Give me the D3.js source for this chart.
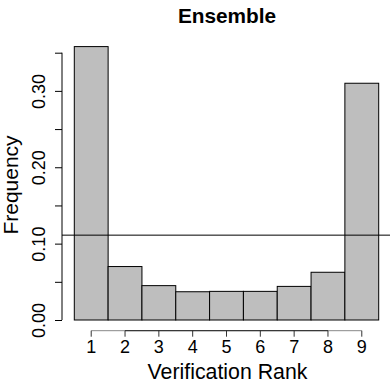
<!DOCTYPE html>
<html>
<head>
<meta charset="utf-8">
<script src="https://cdn.jsdelivr.net/npm/d3@7"></script>
<style>
  html, body { margin: 0; padding: 0; background: #fff; }
  svg { display: block; }
  text { font-family: "Liberation Sans", Arial, Helvetica, sans-serif; fill: #000; }
</style>
</head>
<body>
<svg id="chart" width="390" height="383"></svg>
<script>
const ranks = [1, 2, 3, 4, 5, 6, 7, 8, 9];
const frequency = [0.358, 0.070, 0.045, 0.037, 0.0375, 0.0375, 0.044, 0.0625, 0.310];
const yTicks = [0, 0.05, 0.10, 0.15, 0.20, 0.25, 0.30, 0.35];
const yTickLabels = ["0.00", "", "0.10", "", "0.20", "", "0.30", ""];
const uniformLine = [1 / 9];
const title = "Ensemble";
const xTitle = "Verification Rank";
const yTitle = "Frequency";

const svg = d3.select("#chart");
const W = 390, H = 383;

const x = d3.scaleBand().domain(ranks).range([74.3, 378.7]).padding(0);
const y = d3.scaleLinear().domain([0, 0.35]).range([320, 52.7]);

// bars
svg.append("g").selectAll("rect").data(ranks).join("rect")
  .attr("x", d => x(d))
  .attr("y", (d, i) => y(frequency[i]))
  .attr("width", x.bandwidth())
  .attr("height", (d, i) => y(0) - y(frequency[i]))
  .attr("fill", "#bebebe")
  .attr("stroke", "#000")
  .attr("stroke-width", 1);

// y axis
const yAxisX = 62;
const yAxis = d3.axisLeft(y).tickValues(yTicks).tickSize(7).tickFormat((d, i) => yTickLabels[i]);
const gy = svg.append("g").attr("transform", `translate(${yAxisX},0)`).call(yAxis);
gy.select(".domain").attr("d", `M0,${y(0)}V${y(0.35)}`).attr("stroke", "#000");
gy.selectAll(".tick line").attr("stroke", "#000");
gy.selectAll(".tick text")
  .attr("x", 0).attr("y", 0).attr("dy", null)
  .attr("transform", "translate(-17,0) rotate(-90)")
  .attr("text-anchor", "middle")
  .style("font-size", "18px")
  .style("font-family", "'Liberation Sans', Arial, sans-serif");

// x axis
const xAxisY = 330.7;
const xAxis = d3.axisBottom(x).tickSize(6);
const gx = svg.append("g").attr("transform", `translate(0,${xAxisY})`).call(xAxis);
gx.select(".domain").attr("d", `M${x(1) + x.bandwidth() / 2},0H${x(9) + x.bandwidth() / 2}`).attr("stroke", "#888");
gx.append("path")
  .attr("d", `M${x(2) + x.bandwidth() / 2},0H${x(8) + x.bandwidth() / 2}`)
  .attr("stroke", "#222").attr("fill", "none");
gx.selectAll(".tick line").attr("stroke", "#333");
gx.selectAll(".tick text")
  .attr("y", 22).attr("dy", null)
  .style("font-size", "18px")
  .style("font-family", "'Liberation Sans', Arial, sans-serif");

// horizontal reference line
svg.append("g").selectAll("line").data(uniformLine).join("line")
  .attr("x1", yAxisX).attr("x2", W)
  .attr("y1", d => y(d)).attr("y2", d => y(d))
  .attr("stroke", "#000").attr("stroke-width", 1);

// title
svg.append("text")
  .attr("x", 227).attr("y", 23)
  .attr("text-anchor", "middle")
  .style("font-weight", "bold")
  .style("font-size", "20.8px")
  .text(title);

// x title
svg.append("text")
  .attr("x", 227.5).attr("y", 379.3)
  .attr("text-anchor", "middle")
  .style("font-size", "21.3px")
  .text(xTitle);

// y title
svg.append("text")
  .attr("transform", "translate(18,185) rotate(-90)")
  .attr("text-anchor", "middle")
  .style("font-size", "21px")
  .text(yTitle);
</script>
</body>
</html>
